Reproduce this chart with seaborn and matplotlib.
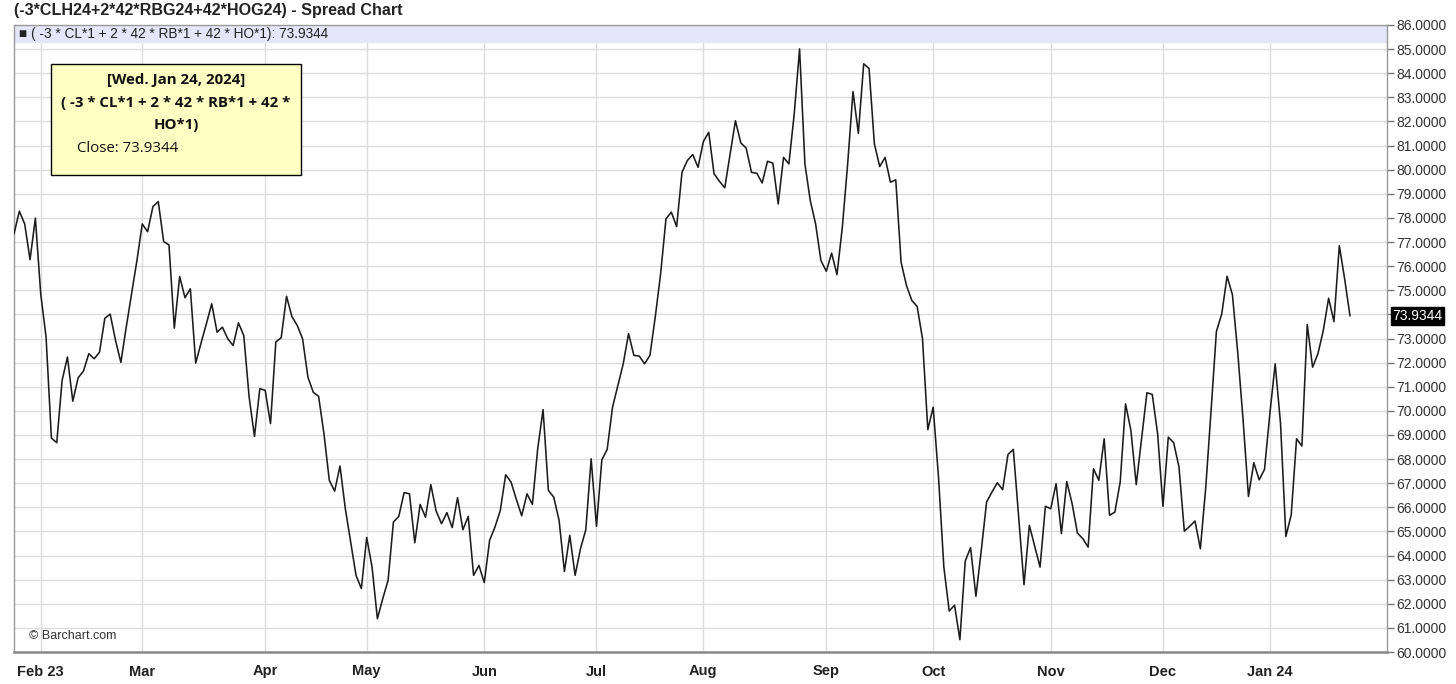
import pandas as pd
import seaborn as sns
import matplotlib.pyplot as plt
from matplotlib.patches import Rectangle
from matplotlib.transforms import blended_transform_factory

# trading days shown on the chart (exchange holidays removed)
holidays = ['2023-02-20', '2023-04-07', '2023-05-29', '2023-06-19', '2023-07-04',
            '2023-09-04', '2023-11-23', '2023-12-25', '2024-01-01', '2024-01-15']
dates = pd.bdate_range('2023-01-25', '2024-01-24', freq='C', holidays=holidays)

# daily close of the spread
close = [
    77.34, 78.28, 77.75, 76.27, 77.99, 74.85, 73.06, 68.87, 68.68, 71.26,
    72.23, 70.40, 71.37, 71.65, 72.37, 72.16, 72.43, 73.84, 74.01, 72.92,
    72.01, 73.47, 74.85, 76.23, 77.75, 77.43, 78.47, 78.68, 77.02, 76.88,
    73.43, 75.57, 74.69, 75.06, 71.98, 72.81, 73.61, 74.44, 73.26, 73.47,
    72.99, 72.71, 73.65, 73.12, 70.57, 68.94, 70.92, 70.85, 69.47, 72.86,
    73.03, 74.75, 73.91, 73.54, 72.99, 71.40, 70.77, 70.60, 69.05, 67.12,
    66.67, 67.71, 65.94, 64.56, 63.18, 62.63, 64.75, 63.52, 61.38, 62.21,
    62.97, 65.39, 65.62, 66.61, 66.56, 64.53, 66.12, 65.59, 66.94, 65.84,
    65.32, 65.78, 65.16, 66.40, 65.07, 65.62, 63.18, 63.59, 62.88, 64.63,
    65.18, 65.87, 67.35, 67.05, 66.33, 65.65, 66.56, 66.12, 68.43, 70.05,
    66.70, 66.42, 65.46, 63.34, 64.84, 63.18, 64.28, 65.07, 68.01, 65.21,
    67.97, 68.40, 70.15, 71.05, 71.95, 73.20, 72.30, 72.27, 71.95, 72.30,
    73.90, 75.68, 77.96, 78.24, 77.64, 79.89, 80.38, 80.63, 80.10, 81.17,
    81.55, 79.83, 79.52, 79.25, 80.63, 82.03, 81.11, 80.90, 79.89, 79.85,
    79.45, 80.35, 80.27, 78.58, 80.51, 80.24, 82.31, 85.01, 80.24, 78.72,
    77.75, 76.23, 75.79, 76.54, 75.65, 77.61, 80.24, 83.24, 81.51, 84.39,
    84.20, 81.07, 80.13, 80.51, 79.48, 79.58, 76.16, 75.20, 74.58, 74.33,
    73.00, 69.22, 70.15, 67.25, 63.52, 61.70, 61.94, 60.51, 63.77, 64.33,
    62.31, 64.21, 66.22, 66.63, 67.02, 66.73, 68.19, 68.40, 65.59, 62.79,
    65.25, 64.38, 63.52, 66.04, 65.94, 66.98, 64.91, 67.07, 66.15, 64.93,
    64.70, 64.35, 67.60, 67.12, 68.84, 65.67, 65.80, 67.05, 70.29, 69.19,
    66.94, 68.84, 70.75, 70.68, 69.05, 66.04, 68.91, 68.68, 67.67, 65.01,
    65.21, 65.43, 64.28, 66.80, 70.00, 73.29, 74.02, 75.58, 74.81, 72.40,
    69.60, 66.45, 67.85, 67.14, 67.57, 69.88, 71.95, 69.47, 64.79, 65.69,
    68.84, 68.54, 73.58, 71.81, 72.37, 73.33, 74.67, 73.70, 76.85, 75.47,
    73.9344,
]
month_labels = ['Feb 23', 'Mar', 'Apr', 'May', 'Jun', 'Jul', 'Aug',
                'Sep', 'Oct', 'Nov', 'Dec', 'Jan 24']
y_ticks = list(range(60, 87))

df = pd.DataFrame({'date': dates, 'close': close})
df['idx'] = range(len(df))
month_start = df.index[df['date'].dt.month != df['date'].shift().dt.month][1:]

sns.set_style('white')
plt.rcParams['font.family'] = ['Liberation Sans', 'DejaVu Sans']

W, H = 1456, 684
fig = plt.figure(figsize=(W / 100, H / 100), dpi=100)
ax = fig.add_axes([14 / W, 1 - 652 / H, (1387 - 14) / W, (652 - 25) / H])


def fx(px):
    return px / W


def fy(py):
    return 1 - py / H


sns.lineplot(data=df, x='idx', y='close', ax=ax, color='#1c1c1c', linewidth=1.15, zorder=3)

ax.set_xlim(0, (1387 - 14) / 5.344)
ax.set_ylim(60, 86)
ax.set_xlabel('')
ax.set_ylabel('')

ax.set_xticks(month_start)
ax.set_xticklabels(month_labels, fontweight='bold', fontsize=10.5, color='#222')
ax.set_yticks(y_ticks)
ax.set_yticklabels([f'{v:.4f}' if v != 74 else '' for v in y_ticks], fontsize=10, color='#333')
ax.yaxis.tick_right()
ax.tick_params(axis='y', direction='out', length=5, width=1, color='#777', pad=2)
ax.tick_params(axis='x', direction='out', length=4, width=1, color='#777', pad=5)
ax.grid(True, color='#dcdcdc', linewidth=1)
ax.set_axisbelow(True)
for side in ['left', 'right', 'top']:
    ax.spines[side].set_color('#999')
    ax.spines[side].set_linewidth(1)
ax.spines['bottom'].set_color('#888')
ax.spines['bottom'].set_linewidth(1.8)

# legend band at the top of the plot
ax.axhspan(85.3, 86, color='#e6e6fa', zorder=2)
ax.text(0.004, 85.64, '■ ( -3 * CL*1 + 2 * 42 * RB*1 + 42 * HO*1): 73.9344',
        transform=blended_transform_factory(ax.transAxes, ax.transData),
        fontsize=9.8, color='#222', va='center', zorder=4)

# last value marker on the price axis
ax.text(1.004, close[-1], f'{close[-1]:.4f}',
        transform=blended_transform_factory(ax.transAxes, ax.transData),
        fontsize=10, color='white', va='center', ha='left', zorder=5, clip_on=False,
        bbox=dict(boxstyle='square,pad=0.12', fc='black', ec='black'))

fig.text(fx(14), fy(11), '(-3*CLH24+2*42*RBG24+42*HOG24) - Spread Chart',
         fontsize=11.6, fontweight='bold', color='#222', va='center')
fig.text(fx(29), fy(636), '© Barchart.com', fontsize=9, color='#333', va='center')

# tooltip box
fig.patches.append(Rectangle((fx(51), fy(175)), (301 - 51) / W, (175 - 64) / H,
                             transform=fig.transFigure, facecolor='#ffffc4',
                             edgecolor='black', linewidth=1, zorder=6))
tip_font = ['Open Sans', 'DejaVu Sans']
for text, py in [('[Wed. Jan 24, 2024]', 80), ('( -3 * CL*1 + 2 * 42 * RB*1 + 42 *', 103),
                 ('HO*1)', 125)]:
    fig.text(fx(176), fy(py), text, family=tip_font, fontsize=10.8, fontweight='bold',
             ha='center', va='center', color='#111', zorder=7)
fig.text(fx(77), fy(148), 'Close: 73.9344', family=tip_font, fontsize=10.8,
         ha='left', va='center', color='#111', zorder=7)

fig.savefig('out.png', dpi=100)
